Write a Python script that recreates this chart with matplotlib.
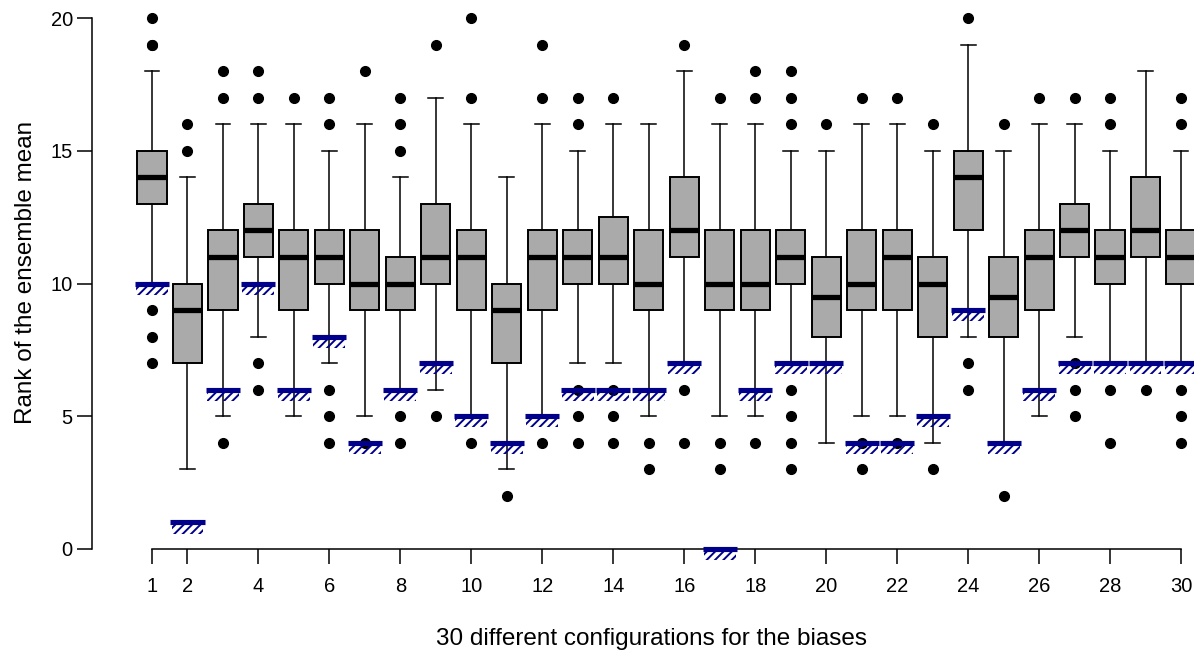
import matplotlib
matplotlib.use("Agg")
import matplotlib.pyplot as plt

plt.rcParams['font.family'] = ['Liberation Sans', 'DejaVu Sans']
plt.rcParams['hatch.linewidth'] = 1.4
plt.rcParams['hatch.color'] = '#00008B'

# ---- data ----
configs = list(range(1, 31))
q1 = [13, 7, 9, 11, 9, 10, 9, 9, 10, 9, 7, 9, 10, 10, 9, 11, 9, 9, 10, 8,
      9, 9, 8, 12, 8, 9, 11, 10, 11, 10]
med = [14, 9, 11, 12, 11, 11, 10, 10, 11, 11, 9, 11, 11, 11, 10, 12, 10, 10, 11, 9.5,
       10, 11, 10, 14, 9.5, 11, 12, 11, 12, 11]
q3 = [15, 10, 12, 13, 12, 12, 12, 11, 13, 12, 10, 12, 12, 12.5, 12, 14, 12, 12, 12, 11,
      12, 12, 11, 15, 11, 12, 13, 12, 14, 12]
whis_lo = [10, 3, 5, 8, 5, 7, 5, 6, 6, 5, 3, 5, 7, 7, 5, 7, 5, 5, 7, 4,
           5, 5, 4, 8, 4, 5, 8, 7, 7, 7]
whis_hi = [18, 14, 16, 16, 16, 15, 16, 14, 17, 16, 14, 16, 15, 16, 16, 18, 16, 16, 15, 15,
           16, 16, 15, 19, 15, 16, 16, 15, 18, 15]
outliers = [
    [20, 19, 19, 9, 8, 7], [16, 15], [18, 17, 4], [18, 17, 7, 6], [17],
    [17, 16, 6, 5, 4], [18, 4], [17, 16, 15, 5, 4], [19, 5], [20, 17, 4],
    [2], [19, 17, 4], [17, 16, 6, 5, 4], [17, 6, 5, 4], [4, 3],
    [19, 6, 4], [17, 4, 3], [18, 17, 4], [18, 17, 16, 6, 5, 4, 3], [16],
    [17, 4, 3], [17, 4], [16, 3], [20, 7, 6], [16, 2],
    [17], [17, 7, 6, 5], [17, 16, 6, 4], [6], [17, 16, 6, 5, 4],
]
ensemble_mean_rank = [10, 1, 6, 10, 6, 8, 4, 6, 7, 5, 4, 5, 6, 6, 6, 7, 0, 6, 7, 7,
                      4, 4, 5, 9, 4, 6, 7, 7, 7, 7]
xtick_vals = [1, 2, 4, 6, 8, 10, 12, 14, 16, 18, 20, 22, 24, 26, 28, 30]
ytick_vals = [0, 5, 10, 15, 20]

# ---- figure ----
W, H = 1194, 653
fig = plt.figure(figsize=(W / 100, H / 100), dpi=100)
x1_px, x30_px = 152, 1181
y0_px, y20_px = 549, 18
xs = (x30_px - x1_px) / 29.0
ys = (y0_px - y20_px) / 20.0
xlim = (0.5, 30.5)
ylim = (-1.0, 20.5)
left = x1_px - (1 - xlim[0]) * xs
bottom_px = y0_px + (0 - ylim[0]) * ys
ax = fig.add_axes([left / W, (H - bottom_px) / H,
                   (xlim[1] - xlim[0]) * xs / W, (ylim[1] - ylim[0]) * ys / H])
ax.set_xlim(*xlim)
ax.set_ylim(*ylim)

stats = []
for i in range(len(configs)):
    stats.append(dict(med=med[i], q1=q1[i], q3=q3[i], whislo=whis_lo[i],
                      whishi=whis_hi[i], fliers=outliers[i]))

ax.bxp(stats, positions=configs, widths=0.82, capwidths=0.42, patch_artist=True,
       boxprops=dict(facecolor='#AAAAAA', edgecolor='black', linewidth=1.4),
       medianprops=dict(color='black', linewidth=3.8, solid_capstyle='butt'),
       whiskerprops=dict(color='black', linewidth=1.1, linestyle='-'),
       capprops=dict(color='black', linewidth=1.1),
       flierprops=dict(marker='o', markerfacecolor='black', markeredgecolor='black',
                       markersize=7, linestyle='none'),
       manage_ticks=False)

# ensemble-mean markers: thick bar with hatching below
ax.bar(configs, [0.31] * len(configs), width=0.9,
       bottom=[v - 0.42 for v in ensemble_mean_rank],
       facecolor='none', edgecolor='#00008B', linewidth=0, hatch='////', zorder=4)
ax.hlines(ensemble_mean_rank, [c - 0.48 for c in configs], [c + 0.48 for c in configs],
          colors='#00008B', linewidth=3.7, zorder=5)

# R-style axes
for s in ['top', 'right']:
    ax.spines[s].set_visible(False)
ax.spines['left'].set_position(('outward', (left - 92) * 0.72))
ax.spines['left'].set_bounds(0, 20)
ax.spines['bottom'].set_position(('data', 0))
ax.spines['bottom'].set_bounds(1, 30)
for s in ['left', 'bottom']:
    ax.spines[s].set_linewidth(1.1)
ax.set_xticks(xtick_vals)
ax.set_xticklabels([str(v) for v in xtick_vals])
ax.set_yticks(ytick_vals)
ax.set_yticklabels([str(v) for v in ytick_vals])
ax.tick_params(axis='x', direction='out', length=10.8, width=1.1, pad=9, labelsize=14.5)
ax.tick_params(axis='y', direction='out', length=10.8, width=1.1, pad=3, labelsize=14.5)

fig.text(652 / W, 1 - 639 / H, '30 different configurations for the biases',
         ha='center', va='center', fontsize=17.5)
fig.text(26 / W, 1 - 272 / H, 'Rank of the ensemble mean', rotation=90,
         ha='center', va='center', fontsize=17.5)

fig.savefig('out.png', dpi=100)
